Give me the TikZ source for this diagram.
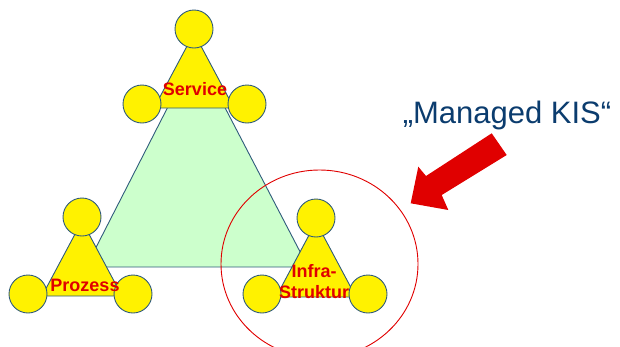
\documentclass[tikz,border=0pt]{standalone}
\usepackage{fontspec}
\setmainfont{Liberation Sans}

\definecolor{edgeblue}{HTML}{2F5B7C}
\definecolor{palegreen}{HTML}{CCFFCC}
\definecolor{signalred}{HTML}{E00000}
\definecolor{kisblue}{HTML}{0B3C6E}

\begin{document}
\begin{tikzpicture}[
    x=1pt, y=-1pt,
    knob/.style={
        circle,
        draw=edgeblue,
        fill=yellow,
        line width=0.9pt,
        minimum size=38pt,
        inner sep=0pt,
    },
    wedge/.style={draw=edgeblue, fill=yellow, line width=0.9pt},
    rolename/.style={
        text=signalred,
        font=\bfseries\fontsize{18}{21}\selectfont,
        align=center,
        anchor=base,
        inner sep=0pt,
    }
]
\useasboundingbox (0,0) rectangle (620,346);

% Top circle centres of the three groups
\def\sx{194} \def\sy{29}    % Service
\def\px{82}  \def\py{217}   % Prozess
\def\ix{316} \def\iy{218}   % Infra-Struktur

% --- Central triangle ---
\draw[fill=palegreen, draw=edgeblue, line width=0.9pt]
    (196,52) -- (86,267) -- (308,267) -- cycle;

% --- Service ---
\draw[wedge] (\sx,{\sy+4}) -- ({\sx-40},{\sy+79}) -- ({\sx+40},{\sy+79}) -- cycle;
\node[knob] (S1) at (\sx,\sy) {};
\node[knob] (S2) at ({\sx-52},{\sy+75}) {};
\node[knob] (S3) at ({\sx+53},{\sy+75}) {};
\node[rolename] (S) at (195,95) {Service};

% --- Prozess ---
\draw[wedge] (\px,{\py+4}) -- ({\px-40},{\py+79}) -- ({\px+40},{\py+79}) -- cycle;
\node[knob] (P1) at (\px,\py) {};
\node[knob] (P2) at ({\px-54},{\py+77}) {};
\node[knob] (P3) at ({\px+51},{\py+77}) {};
\node[rolename] (P) at (85,291) {Prozess};

% --- Infra-Struktur ---
\draw[wedge] (\ix,{\iy+4}) -- ({\ix-40},{\iy+79}) -- ({\ix+40},{\iy+79}) -- cycle;
\node[knob] (I1) at (\ix,\iy) {};
\node[knob] (I2) at ({\ix-54},{\iy+76}) {};
\node[knob] (I3) at ({\ix+52},{\iy+76}) {};
\node[rolename] (I) at (314,298) {Infra-\\Struktur};

% --- Managed part ---
\draw[signalred, line width=0.9pt] (319.5,264) ellipse [x radius=98.5, y radius=94];
\fill[signalred] (410.7,203.3) -- (418.3,166.7) -- (426,176) -- (491.7,133.3)
    -- (506.7,155) -- (441.7,195) -- (448.3,210) -- cycle;
\node[font=\fontsize{31}{36}\selectfont, text=kisblue, anchor=base] (KIS) at (507,123)
    {„Managed KIS“};

\end{tikzpicture}
\end{document}
